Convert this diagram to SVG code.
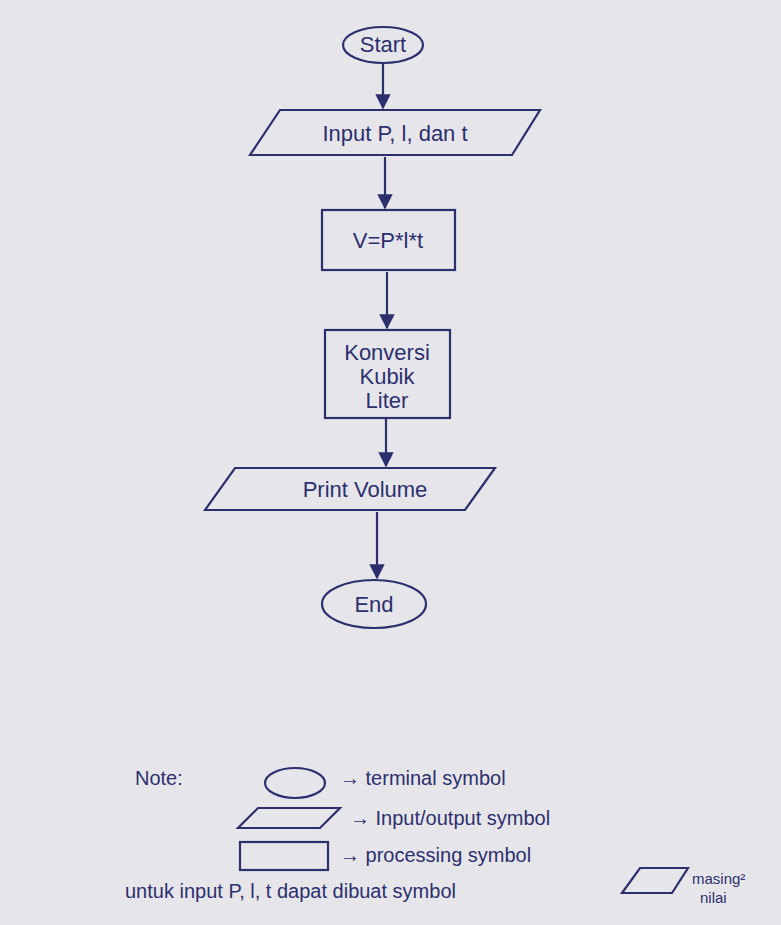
<svg xmlns="http://www.w3.org/2000/svg" width="781" height="925" viewBox="0 0 781 925">
<style>
.s{fill:none;stroke:#2c2f6e;stroke-width:2.2}
.t{font-family:"Liberation Sans",sans-serif;fill:#2c2f6e;font-size:22px;text-anchor:middle}
.n{font-family:"Liberation Sans",sans-serif;fill:#2c2f6e;font-size:20px}
</style>
<defs><marker id="a" viewBox="0 0 10 10" refX="9" refY="5" markerWidth="7" markerHeight="7" orient="auto"><path d="M0,0L10,5L0,10z" fill="#2c2f6e"/></marker></defs>
<rect width="781" height="925" fill="#e6e6ea"/>
<g id="connectors" class="s" marker-end="url(#a)">
<line x1="383" y1="63" x2="383" y2="108"/>
<line x1="385" y1="157" x2="385" y2="208"/>
<line x1="387" y1="272" x2="387" y2="328"/>
<line x1="386" y1="418" x2="386" y2="466"/>
<line x1="377" y1="512" x2="377" y2="578"/>
</g>
<g id="start"><ellipse class="s" cx="383" cy="45" rx="40" ry="18"/><text class="t" x="383" y="52">Start</text></g>
<g id="input"><polygon class="s" points="280,110 540,110 512,155 250,155"/><text class="t" x="395" y="141">Input P, l, dan t</text></g>
<g id="calc"><rect class="s" x="322" y="210" width="133" height="60"/><text class="t" x="388" y="248">V=P*l*t</text></g>
<g id="konversi"><rect class="s" x="325" y="330" width="125" height="88"/><text class="t" x="387" y="360">Konversi</text><text class="t" x="387" y="384">Kubik</text><text class="t" x="387" y="408">Liter</text></g>
<g id="print"><polygon class="s" points="235,468 495,468 465,510 205,510"/><text class="t" x="365" y="497">Print Volume</text></g>
<g id="end"><ellipse class="s" cx="374" cy="604" rx="52" ry="24"/><text class="t" x="374" y="612">End</text></g>
<g id="legend">
<text class="n" x="135" y="785">Note:</text>
<ellipse class="s" cx="295" cy="783" rx="30" ry="15"/>
<text class="n" x="340" y="785">→ terminal symbol</text>
<polygon class="s" points="258,808 340,808 320,828 238,828"/>
<text class="n" x="350" y="825">→ Input/output symbol</text>
<rect class="s" x="240" y="842" width="88" height="28"/>
<text class="n" x="340" y="862">→ processing symbol</text>
<text class="n" x="125" y="898">untuk input P, l, t dapat dibuat symbol</text>
<polygon class="s" points="640,868 688,868 672,893 622,893"/>
<text class="n" x="692" y="884" style="font-size:15px">masing²</text>
<text class="n" x="700" y="903" style="font-size:15px">nilai</text>
</g>
</svg>
